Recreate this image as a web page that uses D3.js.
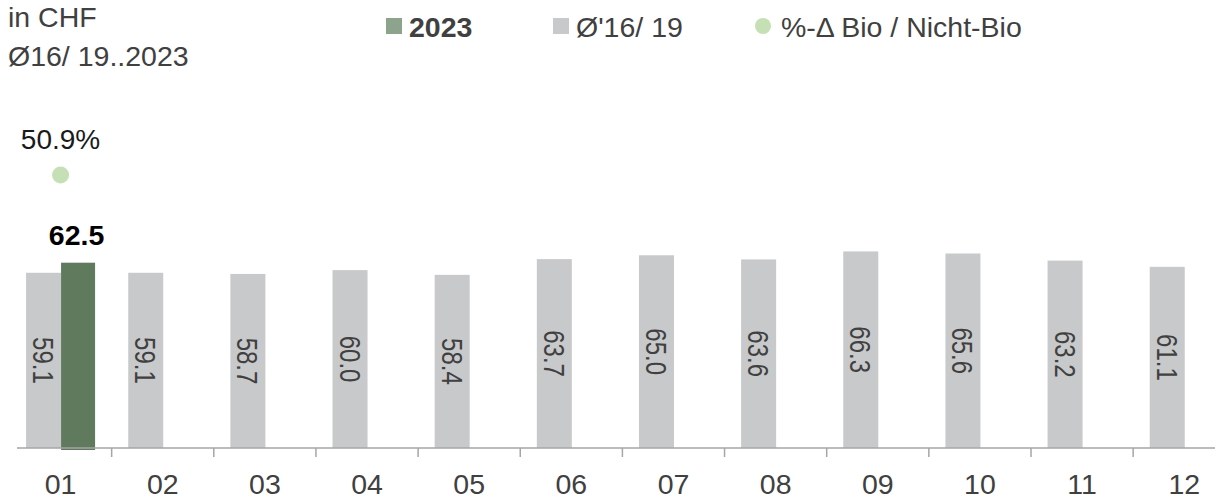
<!DOCTYPE html>
<html>
<head>
<meta charset="utf-8">
<script src="https://cdn.jsdelivr.net/npm/d3@7"></script>
<style>
  body { margin: 0; background: #fff; }
  svg { font-family: "Liberation Sans", Arial, sans-serif; }
</style>
</head>
<body>
<svg id="chart" width="1215" height="499"></svg>
<script>
// chart data
const months = ['01', '02', '03', '04', '05', '06', '07', '08', '09', '10', '11', '12'];
const avgValues = [59.1, 59.1, 58.7, 60.0, 58.4, 63.7, 65.0, 63.6, 66.3, 65.6, 63.2, 61.1]; // Ø'16/19
const curValues = [62.5, null, null, null, null, null, null, null, null, null, null, null]; // 2023
const pctValues = [50.9, null, null, null, null, null, null, null, null, null, null, null]; // %-Δ Bio / Nicht-Bio

const textCol = '#404040';
const greyBar = '#c8c9cb';
const greenBar = '#5f7a5d';
const greenLegend = '#8ea38c';
const dotCol = '#c6e0b5';

const svg = d3.select('#chart');
const baseY = 448;

const x = d3.scaleBand().domain(months).range([9.5, 1235.3]).paddingInner(0);
const sub = d3.scaleBand().domain(['avg', 'cur']).range([-34.5, 35.5]);
const y = d3.scaleLinear().domain([0, 100]).range([baseY, baseY - 296.5]);
const y2 = d3.scaleLinear().domain([0, 50.9]).range([baseY, 175]);

// top-left texts
svg.append('text').attr('x', 8).attr('y', 27).attr('font-size', 28.5).attr('fill', textCol).text('in CHF');
svg.append('text').attr('x', 8).attr('y', 66).attr('font-size', 28.5).attr('fill', textCol).text('Ø16/ 19..2023');

// legend
const lg = svg.append('g').attr('font-size', 28.5).attr('fill', textCol);
lg.append('rect').attr('x', 386).attr('y', 18).attr('width', 16).attr('height', 16).attr('fill', greenLegend);
lg.append('text').attr('x', 409).attr('y', 37).attr('font-weight', 'bold').text('2023');
lg.append('rect').attr('x', 553).attr('y', 18).attr('width', 16).attr('height', 16).attr('fill', greyBar);
lg.append('text').attr('x', 576).attr('y', 37).text("Ø'16/ 19");
lg.append('circle').attr('cx', 763).attr('cy', 26).attr('r', 8).attr('fill', dotCol);
lg.append('text').attr('x', 781).attr('y', 37).text('%-Δ Bio / Nicht-Bio');

// grey bars (average)
const mid = m => x(m) + x.bandwidth() / 2;
svg.selectAll('rect.avg').data(months).enter().append('rect')
  .attr('class', 'avg')
  .attr('x', m => mid(m) + sub('avg'))
  .attr('width', sub.bandwidth())
  .attr('y', (m, i) => y(avgValues[i]))
  .attr('height', (m, i) => baseY - y(avgValues[i]))
  .attr('fill', greyBar);

// rotated value labels inside grey bars
svg.selectAll('text.avgLbl').data(months).enter().append('text')
  .attr('class', 'avgLbl')
  .attr('transform', (m, i) => {
    const cx = mid(m) + sub('avg') + sub.bandwidth() / 2;
    const cy = (y(avgValues[i]) + baseY) / 2;
    return `translate(${cx},${cy}) rotate(90) scale(0.8,1)`;
  })
  .attr('text-anchor', 'middle')
  .attr('dominant-baseline', 'central')
  .attr('font-size', 30)
  .attr('fill', textCol)
  .text((m, i) => avgValues[i].toFixed(1));

// green bars (2023)
const curData = months.map((m, i) => ({ m, v: curValues[i] })).filter(d => d.v != null);
svg.selectAll('rect.cur').data(curData).enter().append('rect')
  .attr('class', 'cur')
  .attr('x', d => mid(d.m) + sub('cur'))
  .attr('width', sub.bandwidth() - 1)
  .attr('y', d => y(d.v))
  .attr('height', d => baseY - y(d.v) + 2)
  .attr('fill', greenBar);

svg.selectAll('text.curLbl').data(curData).enter().append('text')
  .attr('x', d => mid(d.m) + sub('cur') + sub.bandwidth() / 2 - 2)
  .attr('y', d => y(d.v) - 18)
  .attr('text-anchor', 'middle')
  .attr('font-size', 28.5)
  .attr('font-weight', 'bold')
  .attr('fill', '#000')
  .text(d => d.v.toFixed(1));

// percent dots
const pctData = months.map((m, i) => ({ m, v: pctValues[i] })).filter(d => d.v != null);
svg.selectAll('circle.pct').data(pctData).enter().append('circle')
  .attr('cx', d => mid(d.m))
  .attr('cy', d => y2(d.v))
  .attr('r', 8.5)
  .attr('fill', dotCol);
svg.selectAll('text.pctLbl').data(pctData).enter().append('text')
  .attr('x', d => mid(d.m))
  .attr('y', d => y2(d.v) - 26)
  .attr('text-anchor', 'middle')
  .attr('font-size', 28)
  .attr('fill', '#1a1a1a')
  .text(d => d.v.toFixed(1) + '%');

// x axis
const axis = svg.append('g').attr('transform', `translate(0,${baseY})`)
  .call(d3.axisBottom(x).tickSize(0).tickPadding(26));
axis.select('.domain').remove();
axis.selectAll('text').attr('font-size', 28.5).attr('fill', textCol)
  .attr('font-family', '"Liberation Sans", Arial, sans-serif');
axis.append('line').attr('x1', 17).attr('x2', 1215).attr('y1', 0).attr('y2', 0)
  .attr('stroke', '#a6a6a6').attr('stroke-width', 1.5);
axis.selectAll('line.sep').data(months.slice(1)).enter().append('line')
  .attr('class', 'sep')
  .attr('x1', m => x(m)).attr('x2', m => x(m))
  .attr('y1', 0).attr('y2', 9)
  .attr('stroke', '#a6a6a6').attr('stroke-width', 1.5);
</script>
</body>
</html>
